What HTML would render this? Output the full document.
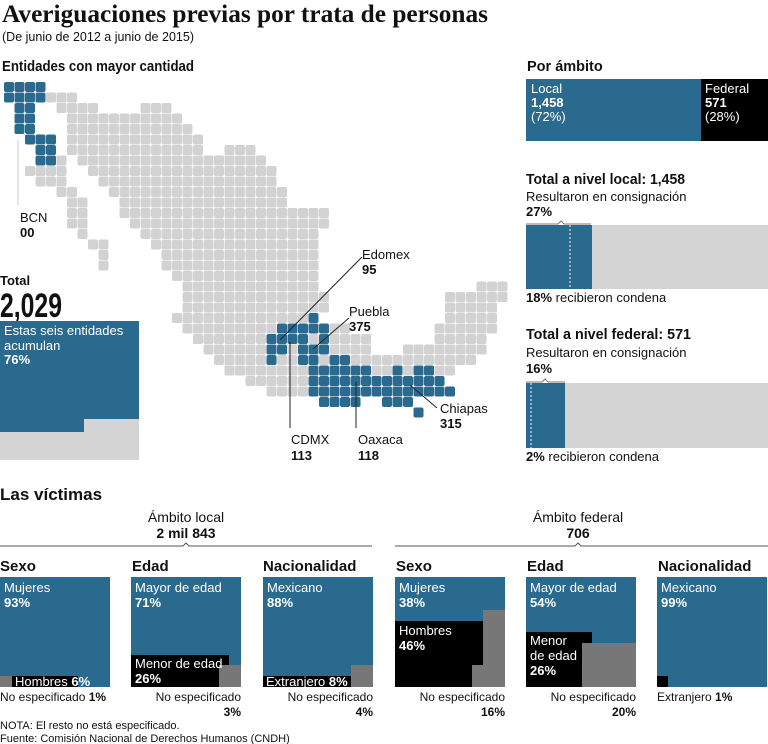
<!DOCTYPE html>
<html><head><meta charset="utf-8"><style>
html,body{margin:0;padding:0;background:#fff}
svg{display:block}
text{font-family:"Liberation Sans",sans-serif;fill:#111}
.b{font-weight:bold}
.w{fill:#fff}
</style></head><body>
<svg id="s" width="768" height="744" viewBox="0 0 768 744" xmlns="http://www.w3.org/2000/svg">
<text x="2" y="22" style="font-family:'Liberation Serif',serif;font-weight:bold;font-size:25px" textLength="486" lengthAdjust="spacingAndGlyphs">Averiguaciones previas por trata de personas</text>
<text x="2" y="41" font-size="12.5" textLength="192" lengthAdjust="spacingAndGlyphs">(De junio de 2012 a junio de 2015)</text>
<text x="2" y="71" font-size="14.5" class="b" textLength="192" lengthAdjust="spacingAndGlyphs">Entidades con mayor cantidad</text>
<g id="map"></g>
<line x1="18" y1="140" x2="18" y2="205" stroke="#ccc" stroke-width="1"/>
<text x="20" y="222" font-size="13">BCN</text>
<text x="20" y="237" font-size="13" class="b">00</text>
<text x="0" y="285" font-size="13" class="b">Total</text>
<text x="0" y="317" font-size="34" class="b" textLength="62" lengthAdjust="spacingAndGlyphs">2,029</text>
<rect x="0" y="321" width="139" height="111" fill="#2a6a8e"/>
<rect x="0" y="432" width="139" height="28" fill="#d4d4d4"/>
<rect x="84" y="419" width="55" height="13" fill="#d4d4d4"/>
<text x="4" y="335" font-size="13" class="w">Estas seis entidades</text>
<text x="4" y="350" font-size="13" class="w">acumulan</text>
<text x="4" y="364" font-size="13" class="w b">76%</text>
<g stroke="#222" stroke-width="1">
<line x1="362" y1="257" x2="280" y2="340"/>
<line x1="349" y1="318" x2="313" y2="349"/>
<line x1="290" y1="342" x2="290" y2="428"/>
<line x1="356" y1="382" x2="356" y2="428"/>
<line x1="410" y1="385" x2="437" y2="408"/>
</g>
<text x="362" y="259" font-size="13">Edomex</text><text x="362" y="274" font-size="13" class="b">95</text>
<text x="349" y="316" font-size="13">Puebla</text><text x="349" y="331" font-size="13" class="b">375</text>
<text x="440" y="413" font-size="13">Chiapas</text><text x="440" y="428" font-size="13" class="b">315</text>
<text x="291" y="444" font-size="13">CDMX</text><text x="291" y="460" font-size="13" class="b">113</text>
<text x="358" y="444" font-size="13">Oaxaca</text><text x="358" y="460" font-size="13" class="b">118</text>

<text x="527" y="71" font-size="14.5" class="b">Por ámbito</text>
<rect x="526" y="79" width="175" height="62" fill="#2a6a8e"/>
<rect x="701" y="79" width="67" height="62" fill="#000"/>
<text x="531" y="93" font-size="13" class="w">Local</text>
<text x="531" y="107" font-size="13" class="w b">1,458</text>
<text x="531" y="121" font-size="13" class="w">(72%)</text>
<text x="705" y="93" font-size="13" class="w">Federal</text>
<text x="705" y="107" font-size="13" class="w b">571</text>
<text x="705" y="121" font-size="13" class="w">(28%)</text>

<text x="526" y="184" font-size="14.5" class="b" textLength="159" lengthAdjust="spacingAndGlyphs">Total a nivel local: 1,458</text>
<text x="526" y="201" font-size="13">Resultaron en consignación</text>
<text x="526" y="216" font-size="13" class="b">27%</text>
<path d="M526 224H558l3-3 3 3H591" fill="none" stroke="#777" stroke-width="1"/>
<rect x="526" y="225" width="66" height="64" fill="#2a6a8e"/>
<rect x="592" y="225" width="176" height="64" fill="#d4d4d4"/>
<line x1="570" y1="225" x2="570" y2="289" stroke="#fff" stroke-dasharray="2 2"/>
<text x="526" y="302" font-size="13"><tspan class="b">18%</tspan> recibieron condena</text>

<text x="526" y="339" font-size="14.5" class="b" textLength="165" lengthAdjust="spacingAndGlyphs">Total a nivel federal: 571</text>
<text x="526" y="357" font-size="13">Resultaron en consignación</text>
<text x="526" y="373" font-size="13" class="b">16%</text>
<path d="M526 382H542l3-3 3 3H565" fill="none" stroke="#777" stroke-width="1"/>
<rect x="526" y="383" width="39" height="65" fill="#2a6a8e"/>
<rect x="565" y="383" width="203" height="65" fill="#d4d4d4"/>
<line x1="531" y1="383" x2="531" y2="448" stroke="#fff" stroke-dasharray="2 2"/>
<text x="526" y="461" font-size="13"><tspan class="b">2%</tspan> recibieron condena</text>

<text x="0" y="500" font-size="17" class="b">Las víctimas</text>
<text x="186" y="522" font-size="14" text-anchor="middle">Ámbito local</text>
<text x="186" y="538" font-size="14" text-anchor="middle" class="b">2 mil 843</text>
<path d="M0 546H183l3-3 3 3H372" fill="none" stroke="#555"/>
<text x="578" y="522" font-size="14" text-anchor="middle">Ámbito federal</text>
<text x="578" y="538" font-size="14" text-anchor="middle" class="b">706</text>
<path d="M395 546H575l3-3 3 3H768" fill="none" stroke="#555"/>

<text x="0" y="571" class="b" font-size="15">Sexo</text>
<text x="132" y="571" class="b" font-size="15">Edad</text>
<text x="263" y="571" class="b" font-size="15">Nacionalidad</text>
<text x="396" y="571" class="b" font-size="15">Sexo</text>
<text x="527" y="571" class="b" font-size="15">Edad</text>
<text x="658" y="571" class="b" font-size="15">Nacionalidad</text>

<rect x="0" y="577" width="110" height="110" fill="#2a6a8e"/>
<rect x="0" y="676" width="12" height="11" fill="#777"/>
<rect x="12" y="676" width="66" height="11" fill="#000"/>
<text x="4" y="592" font-size="13" class="w">Mujeres</text>
<text x="4" y="607" font-size="13" class="w b">93%</text>
<text x="15" y="686" font-size="13" class="w">Hombres <tspan class="b">6%</tspan></text>
<text x="0" y="701" font-size="12">No especificado <tspan class="b">1%</tspan></text>

<rect x="131" y="577" width="110" height="110" fill="#2a6a8e"/>
<rect x="131" y="655" width="98" height="32" fill="#000"/>
<rect x="219" y="665" width="22" height="22" fill="#777"/>
<text x="135" y="592" font-size="13" class="w">Mayor de edad</text>
<text x="135" y="607" font-size="13" class="w b">71%</text>
<text x="135" y="668" font-size="13" class="w">Menor de edad</text>
<text x="135" y="683" font-size="13" class="w b">26%</text>
<text x="241" y="701" font-size="12" text-anchor="end">No especificado</text>
<text x="241" y="716" font-size="12" text-anchor="end" class="b">3%</text>

<rect x="263" y="577" width="110" height="110" fill="#2a6a8e"/>
<rect x="263" y="676" width="88" height="11" fill="#000"/>
<rect x="351" y="665" width="22" height="22" fill="#777"/>
<text x="267" y="592" font-size="13" class="w">Mexicano</text>
<text x="267" y="607" font-size="13" class="w b">88%</text>
<text x="266" y="686" font-size="13" class="w">Extranjero <tspan class="b">8%</tspan></text>
<text x="373" y="701" font-size="12" text-anchor="end">No especificado</text>
<text x="373" y="716" font-size="12" text-anchor="end" class="b">4%</text>

<rect x="395" y="577" width="110" height="110" fill="#2a6a8e"/>
<rect x="395" y="621" width="88" height="66" fill="#000"/>
<rect x="483" y="610" width="22" height="77" fill="#777"/>
<rect x="472" y="665" width="11" height="22" fill="#777"/>
<text x="399" y="592" font-size="13" class="w">Mujeres</text>
<text x="399" y="607" font-size="13" class="w b">38%</text>
<text x="399" y="635" font-size="13" class="w">Hombres</text>
<text x="399" y="650" font-size="13" class="w b">46%</text>
<text x="505" y="701" font-size="12" text-anchor="end">No especificado</text>
<text x="505" y="716" font-size="12" text-anchor="end" class="b">16%</text>

<rect x="526" y="577" width="110" height="110" fill="#2a6a8e"/>
<rect x="526" y="632" width="66" height="55" fill="#000"/>
<rect x="582" y="643" width="54" height="44" fill="#777"/>
<text x="530" y="592" font-size="13" class="w">Mayor de edad</text>
<text x="530" y="607" font-size="13" class="w b">54%</text>
<text x="530" y="645" font-size="13" class="w">Menor</text>
<text x="530" y="660" font-size="13" class="w">de edad</text>
<text x="530" y="675" font-size="13" class="w b">26%</text>
<text x="636" y="701" font-size="12" text-anchor="end">No especificado</text>
<text x="636" y="716" font-size="12" text-anchor="end" class="b">20%</text>

<rect x="657" y="577" width="110" height="110" fill="#2a6a8e"/>
<rect x="657" y="676" width="11" height="11" fill="#000"/>
<text x="661" y="592" font-size="13" class="w">Mexicano</text>
<text x="661" y="607" font-size="13" class="w b">99%</text>
<text x="657" y="701" font-size="12">Extranjero <tspan class="b">1%</tspan></text>

<text x="0" y="729" font-size="11">NOTA: El resto no está especificado.</text>
<text x="0" y="742" font-size="11">Fuente: Comisión Nacional de Derechos Humanos (CNDH)</text>
</svg>
<script>
var B='#2a6a8e',G='#d2d2d2';
var R=[
[0,0,3,B],[1,0,3,B],[1,4,6,G],
[2,1,2,B],[2,5,8,G],[2,13,15,G],
[3,1,2,B],[3,6,16,G],
[4,1,2,B],[4,6,17,G],
[5,2,4,B],[5,6,18,G],
[6,3,4,B],[6,6,18,G],[6,21,23,G],
[7,3,4,B],[7,5,5,G],[7,7,24,G],
[8,2,5,G],[8,8,25,G],
[9,3,5,G],[9,9,25,G],
[10,5,6,G],[10,10,26,G],
[11,6,7,G],[11,11,26,G],
[12,6,7,G],[12,11,30,G],
[13,6,7,G],[13,12,30,G],
[14,7,7,G],[14,13,29,G],
[15,8,9,G],[15,14,29,G],
[16,9,9,G],[16,15,29,G],
[17,9,9,G],[17,15,29,G],
[18,16,29,G],
[19,17,29,G],[19,45,47,G],
[20,17,30,G],[20,42,47,G],
[21,17,30,G],[21,42,46,G],
[22,16,28,G],[22,29,29,B],[22,42,46,G],
[23,17,25,G],[23,26,30,B],[23,31,32,G],[23,41,46,G],
[24,18,24,G],[24,25,28,B],[24,29,29,G],[24,30,30,B],[24,31,34,G],[24,41,45,G],
[25,19,24,G],[25,25,26,B],[25,27,27,G],[25,28,30,B],[25,31,34,G],[25,38,45,G],
[26,20,24,G],[26,25,25,B],[26,26,27,G],[26,28,29,B],[26,30,30,G],[26,31,32,B],[26,33,35,G],[26,36,44,G],
[27,21,28,G],[27,29,34,B],[27,35,36,G],[27,37,37,B],[27,38,38,G],[27,39,40,B],[27,41,42,G],
[28,23,28,G],[28,29,41,B],
[29,25,28,G],[29,29,42,B],
[30,30,33,B],[30,36,38,B],
[31,39,39,B]];
var s='';
R.forEach(function(r){for(var c=r[1];c<=r[2];c++){s+='<rect x="'+(4+10.5*c).toFixed(1)+'" y="'+(82+10.5*r[0]).toFixed(1)+'" width="10" height="10" rx="2" fill="'+r[3]+'"/>';}});
document.getElementById('map').innerHTML=s;
</script>
</body></html>
